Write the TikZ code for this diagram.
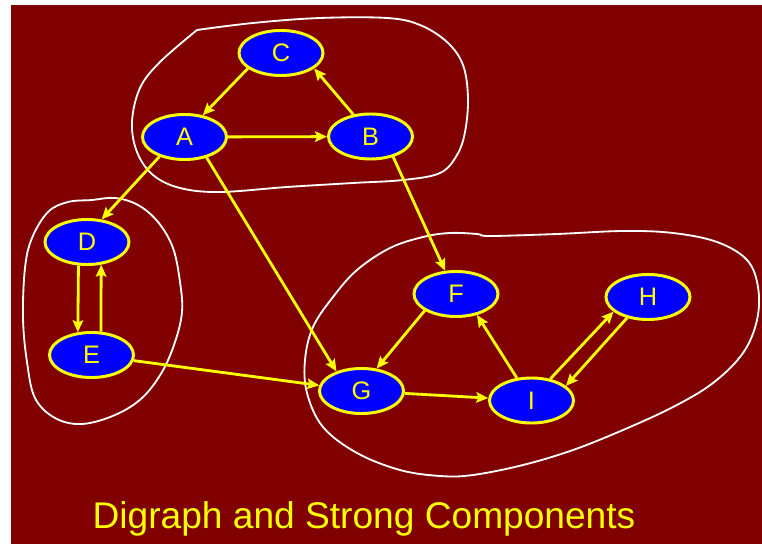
\documentclass[tikz,border=0pt]{standalone}
\usepackage{fontspec}
\setmainfont{Liberation Sans}
\usetikzlibrary{arrows.meta,shapes.geometric}
\definecolor{bgred}{RGB}{128,0,0}
\definecolor{vtxblue}{RGB}{0,0,255}
\definecolor{vtxyellow}{RGB}{255,255,0}

\begin{document}
\begin{tikzpicture}[x=0.025cm, y=-0.025cm,
    vtx/.style={ellipse, draw=vtxyellow, fill=vtxblue, line width=2.1pt,
                minimum width=2.1cm, minimum height=1.125cm, inner sep=0pt,
                text=vtxyellow, font=\fontsize{18}{20}\selectfont},
    arrowln/.style={draw=vtxyellow, line width=2pt,
                -{Stealth[length=8.5pt,width=7.5pt,inset=1.5pt]}},
    sccline/.style={draw=white, line width=1.3pt}
  ]
  \useasboundingbox (0,0) rectangle (762,544);
  \fill[white] (0,0) rectangle (762,544);
  \fill[bgred] (11,5) rectangle (762,544);

  % strong components
  \draw[sccline] plot[smooth, tension=0.6] coordinates {(197,30) (253,23) (320,18)
    (387,18) (420,25) (447,42) (463,65) (468,98) (465,132) (457,155) (440,173)
    (403,180) (353,183) (287,187) (220,192) (180,188) (153,175) (137,152)
    (132,122) (140,88) (160,62) (197,30)};
  \draw[sccline] plot[smooth cycle, tension=0.6] coordinates {(92,200) (115,198)
    (138,205) (158,222) (173,248) (180,282) (182,312) (175,342) (162,372)
    (142,398) (115,415) (82,424) (55,418) (35,398) (27,362) (23,318) (25,268)
    (32,238) (48,212) (68,202)};
  \draw[sccline] plot[smooth cycle, tension=0.6] coordinates {(450,233) (477,234)
    (490,236) (557,234) (623,231) (673,233) (717,242) (747,260) (758,287)
    (757,320) (743,353) (713,383) (673,407) (623,430) (573,450) (523,465)
    (473,475) (440,476) (400,470) (357,453) (323,427) (307,393) (305,360)
    (313,327) (333,297) (357,270) (390,248) (423,237)};

  \node[vtx] (C) at (281,53) {C};
  \node[vtx] (A) at (184.5,137) {A};
  \node[vtx] (B) at (370.5,136.5) {B};
  \node[vtx] (D) at (87,242) {D};
  \node[vtx] (E) at (91.5,355) {E};
  \node[vtx] (F) at (456,294) {F};
  \node[vtx] (H) at (648,297) {H};
  \node[vtx] (G) at (361.5,391) {G};
  \node[vtx] (I) at (531.5,400.5) {I};

  \draw[arrowln] (C.205) -- (A.50);
  \draw[arrowln] (B.128) -- (C.-25);
  \draw[arrowln] (A) -- (B);
  \draw[arrowln] (A.218) -- (D.57);
  \draw[arrowln] (A.-43) -- (G.142);
  \draw[arrowln] (B.-42) -- (F.115);
  \draw[arrowln] (D.-110) -- (E.121);
  \draw[arrowln] (E.68) -- (D.-58);
  \draw[arrowln] (E) -- (G);
  \draw[arrowln] (F.208) -- (G.56);
  \draw[arrowln] (G) -- (I);
  \draw[arrowln] (I.123) -- (F.-45);
  \draw[arrowln] (I.49) -- (H.203);
  \draw[arrowln] (H.225) -- (I.23);

  \node[text=vtxyellow, font=\fontsize{26.4}{30}\selectfont, anchor=base]
    (title) at (364,528) {Digraph and Strong Components};
\end{tikzpicture}
\end{document}
